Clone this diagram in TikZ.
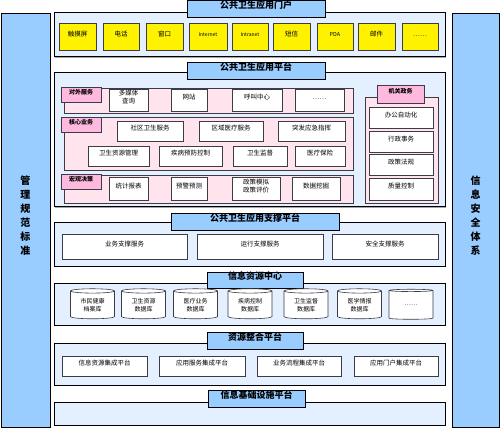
\documentclass[tikz,border=0pt]{standalone}
\usepackage{fontspec}
\newfontfamily\cjk{Noto Sans CJK SC}
\usepackage{xcolor}
\usepackage{tikz}
\usetikzlibrary{shapes}
\usetikzlibrary{fit,shadows}
\definecolor{panelblue}{RGB}{228,240,255}
\definecolor{tabblue}{RGB}{153,204,255}
\definecolor{rowpink}{RGB}{255,228,238}
\definecolor{tabpink}{RGB}{255,185,222}
\definecolor{boxline}{RGB}{60,60,70}
\tikzstyle{panel}=[draw=black, line width=1pt, fill=panelblue, inner sep=0pt, drop shadow={shadow xshift=1pt, shadow yshift=-1pt, fill=black!70}]
\tikzstyle{headtab}=[draw=black, line width=0.8pt, fill=tabblue, inner sep=0pt, font=\cjk\fontsize{9}{10}\selectfont\bfseries, drop shadow={shadow xshift=1pt, shadow yshift=-1pt, fill=black!70}]
\tikzstyle{sidebar}=[draw=black, line width=0.8pt, fill=tabblue, inner sep=0pt, align=center, font=\cjk\fontsize{10}{14}\selectfont\bfseries]
\tikzstyle{pinkrow}=[draw=boxline, line width=0.6pt, fill=rowpink, inner sep=0pt]
\tikzstyle{pinktab}=[draw=boxline, line width=0.6pt, fill=tabpink, inner sep=0pt, font=\cjk\fontsize{6}{7}\selectfont\bfseries]
\tikzstyle{wbox}=[draw=boxline, line width=0.6pt, fill=white, inner sep=0pt, align=center, font=\cjk\fontsize{6.5}{8}\selectfont, drop shadow={shadow xshift=0.8pt, shadow yshift=-0.8pt, fill=black!45}]
\tikzstyle{ybox}=[draw=boxline, line width=0.7pt, fill=yellow, inner sep=0pt, font=\cjk\fontsize{6.5}{8}\selectfont, drop shadow={shadow xshift=0.8pt, shadow yshift=-0.8pt, fill=black!55}]
\tikzstyle{dbcyl}=[cylinder, shape border rotate=90, aspect=0.18, draw=boxline, line width=0.6pt, fill=white, inner sep=0pt, minimum width=44pt, minimum height=30pt, align=center, font=\cjk\fontsize{6}{7.5}\selectfont]

\begin{document}
\begin{tikzpicture}[x=1pt, y=-1pt]
\useasboundingbox (0,0) rectangle (500,430);
% side columns
\node[sidebar, fit={(1,13) (50,427)}] (mgmt) {管\\理\\规\\范\\标\\准};
\node[sidebar, fit={(452,13) (499,427)}] (security) {信\\息\\安\\全\\体\\系};
% portal
\node[panel, fit={(54,13) (445,57)}] (portal) {};
\node[headtab, fit={(187,0) (325,17)}] (portaltab) {公共卫生应用门户};
\node[ybox, fit={(59,23) (96,50)}] (touch) {触摸屏};
\node[ybox, fit={(103,23) (139,50)}] (phone) {电话};
\node[ybox, fit={(146,23) (183,50)}] (window) {窗口};
\node[ybox, fit={(189,23) (227,50)}, font=\cjk\fontsize{5}{6}\selectfont] (inet) {Internet};
\node[ybox, fit={(232,23) (268,50)}, font=\cjk\fontsize{5}{6}\selectfont] (intra) {Intranet};
\node[ybox, fit={(273,23) (310,50)}] (sms) {短信};
\node[ybox, fit={(317,23) (353,50)}, font=\cjk\fontsize{5.5}{6}\selectfont] (pda) {PDA};
\node[ybox, fit={(358,23) (395,50)}] (mail) {邮件};
\node[ybox, fit={(402,23) (438,50)}] (pmore) {……};
% application platform
\node[panel, fit={(54,73) (445,207)}] (app) {};
\node[headtab, fit={(187,62) (325,79)}] (apptab) {公共卫生应用平台};
\node[pinkrow, fit={(64,88) (353,113)}] (outer) {};
\node[pinktab, fit={(61,87) (101,102)}] (outertab) {对外服务};
\node[wbox, fit={(109,89) (148,111)}] (media) {多媒体\\查询};
\node[wbox, fit={(171,89) (207,111)}] (web) {网站};
\node[wbox, fit={(232,89) (282,111)}] (call) {呼叫中心};
\node[wbox, fit={(295,89) (344,111)}] (omore) {……};
\node[pinkrow, fit={(64,117) (353,170)}] (core) {};
\node[pinktab, fit={(61,117) (101,132)}] (coretab) {核心业务};
\node[wbox, fit={(117,121) (183,141)}] (community) {社区卫生服务};
\node[wbox, fit={(199,121) (263,141)}] (region) {区域医疗服务};
\node[wbox, fit={(278,121) (345,141)}] (emergency) {突发应急指挥};
\node[wbox, fit={(88,146) (149,166)}] (resource) {卫生资源管理};
\node[wbox, fit={(159,146) (222,166)}] (disease) {疾病预防控制};
\node[wbox, fit={(233,146) (287,166)}] (supervise) {卫生监督};
\node[wbox, fit={(295,146) (345,166)}] (insurance) {医疗保险};
\node[pinkrow, fit={(64,175) (353,203)}] (macro) {};
\node[pinktab, fit={(61,174) (101,189)}] (macrotab) {宏观决策};
\node[wbox, fit={(109,177) (148,200)}] (report) {统计报表};
\node[wbox, fit={(171,177) (207,200)}] (warn) {预警预测};
\node[wbox, fit={(232,177) (280,200)}] (policy) {政策模拟\\政策评价};
\node[wbox, fit={(292,177) (340,200)}] (mining) {数据挖掘};
\node[pinkrow, fit={(365,97) (438,203)}] (gov) {};
\node[pinktab, fit={(377,85) (424,103)}] (govtab) {机关政务};
\node[wbox, fit={(369,107) (433,128)}] (office) {办公自动化};
\node[wbox, fit={(369,131) (433,152)}] (affairs) {行政事务};
\node[wbox, fit={(369,154) (433,175)}] (law) {政策法规};
\node[wbox, fit={(369,178) (433,200)}] (quality) {质量控制};
% support platform
\node[panel, fit={(54,223) (445,266)}] (support) {};
\node[headtab, fit={(171,213) (339,230)}] (supporttab) {公共卫生应用支撑平台};
\node[wbox, fit={(62,234) (187,259)}] (bizsup) {业务支撑服务};
\node[wbox, fit={(197,234) (323,259)}] (runsup) {运行支撑服务};
\node[wbox, fit={(332,234) (438,259)}] (safesup) {安全支撑服务};
% information resource centre
\node[panel, fit={(54,283) (445,325)}] (data) {};
\node[headtab, fit={(207,272) (303,288)}] (datatab) {信息资源中心};
\node[dbcyl] (citizen) at (92.5,305) {市民健康\\档案库};
\node[dbcyl] (resdb) at (143.5,305) {卫生资源\\数据库};
\node[dbcyl] (meddb) at (195.5,305) {医疗业务\\数据库};
\node[dbcyl] (disdb) at (250,305) {疾病控制\\数据库};
\node[dbcyl] (supdb) at (306,305) {卫生监督\\数据库};
\node[dbcyl] (infodb) at (359.5,305) {医学情报\\数据库};
\node[dbcyl] (moredb) at (411,305) {……};
% integration platform
\node[panel, fit={(54,343) (445,385)}] (integ) {};
\node[headtab, fit={(207,332) (303,349)}] (integtab) {资源整合平台};
\node[wbox, fit={(62,356) (147,376)}] (infoint) {信息资源集成平台};
\node[wbox, fit={(159,356) (245,376)}] (servint) {应用服务集成平台};
\node[wbox, fit={(257,356) (341,376)}] (flowint) {业务流程集成平台};
\node[wbox, fit={(354,356) (438,376)}] (portint) {应用门户集成平台};
% infrastructure
\node[panel, fit={(54,402) (445,425)}] (infra) {};
\node[headtab, fit={(208,390) (305,407)}] (infratab) {信息基础设施平台};
\end{tikzpicture}
\end{document}
